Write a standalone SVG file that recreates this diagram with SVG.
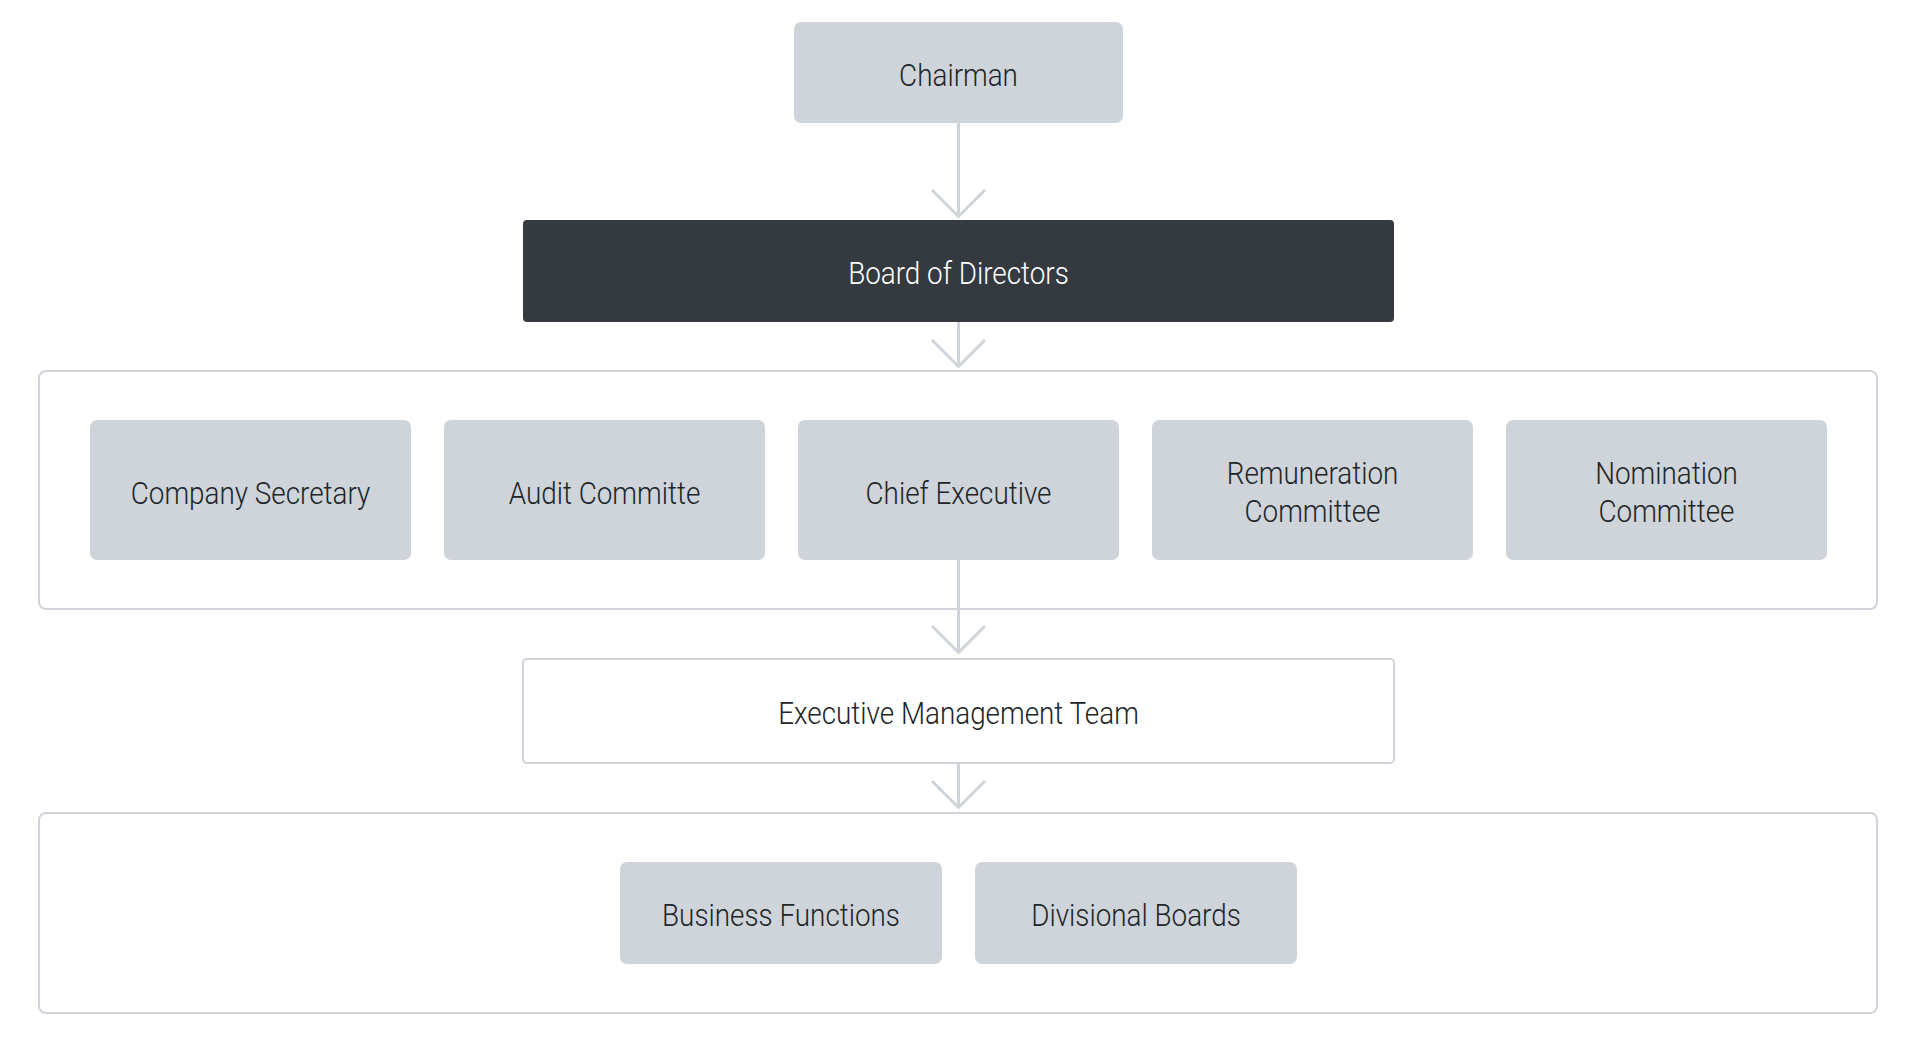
<svg xmlns="http://www.w3.org/2000/svg" width="1914" height="1064" viewBox="0 0 1914 1064">
<style>
.bg{fill:#ffffff}
.box{fill:#ced4da}
.dark{fill:#343a40}
.outline{fill:#ffffff;stroke:#ced4da;stroke-width:2}
.lbl{font-family:Roboto,"Liberation Sans",sans-serif;font-size:32px;font-weight:300;fill:#212529;text-anchor:middle}
.lbl.w{fill:#ffffff}
.conn{fill:none;stroke:#ced4da;stroke-width:3}
</style>
<rect class="bg" x="0" y="0" width="1914" height="1064"/>
<g id="container-committees"><rect class="outline" x="39" y="371" width="1838" height="238" rx="7"/></g>
<g id="container-functions"><rect class="outline" x="39" y="813" width="1838" height="200" rx="7"/></g>
<g id="connectors">
<path class="conn" d="M958.5 123V215M932 190L958.5 216.5L985 190"/>
<path class="conn" d="M958.5 322V366M932 340L958.5 366.5L985 340"/>
<path class="conn" d="M958.5 560V652M932 626L958.5 652.5L985 626"/>
<path class="conn" d="M958.5 764V807M932 781L958.5 807.5L985 781"/>
</g>
<g id="chairman"><rect class="box" x="794" y="22" width="329" height="101" rx="7"/><text class="lbl" transform="translate(958.5 86) scale(0.87 1)">Chairman</text></g>
<g id="board"><rect class="dark" x="523" y="220" width="871" height="102" rx="4"/><text class="lbl w" transform="translate(958.5 284) scale(0.87 1)">Board of Directors</text></g>
<g id="company-secretary"><rect class="box" x="90" y="420" width="321" height="140" rx="7"/><text class="lbl" transform="translate(250.5 504) scale(0.87 1)">Company Secretary</text></g>
<g id="audit-committe"><rect class="box" x="444" y="420" width="321" height="140" rx="7"/><text class="lbl" transform="translate(604.5 504) scale(0.87 1)">Audit Committe</text></g>
<g id="chief-executive"><rect class="box" x="798" y="420" width="321" height="140" rx="7"/><text class="lbl" transform="translate(958.5 504) scale(0.87 1)">Chief Executive</text></g>
<g id="remuneration-committee"><rect class="box" x="1152" y="420" width="321" height="140" rx="7"/><text class="lbl" transform="translate(1312.5 484) scale(0.87 1)"><tspan x="0" y="0">Remuneration</tspan><tspan x="0" y="38">Committee</tspan></text></g>
<g id="nomination-committee"><rect class="box" x="1506" y="420" width="321" height="140" rx="7"/><text class="lbl" transform="translate(1666.5 484) scale(0.87 1)"><tspan x="0" y="0">Nomination</tspan><tspan x="0" y="38">Committee</tspan></text></g>
<g id="executive-management-team"><rect class="outline" x="523" y="659" width="871" height="104" rx="4"/><text class="lbl" transform="translate(958.5 724) scale(0.87 1)">Executive Management Team</text></g>
<g id="business-functions"><rect class="box" x="620" y="862" width="322" height="102" rx="7"/><text class="lbl" transform="translate(781 926) scale(0.87 1)">Business Functions</text></g>
<g id="divisional-boards"><rect class="box" x="975" y="862" width="322" height="102" rx="7"/><text class="lbl" transform="translate(1136 926) scale(0.87 1)">Divisional Boards</text></g>
</svg>
